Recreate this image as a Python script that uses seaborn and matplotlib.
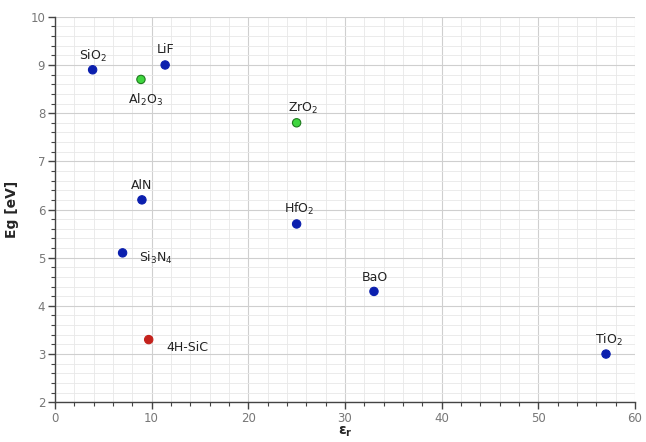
import matplotlib
matplotlib.use("Agg")
import matplotlib.pyplot as plt
import seaborn as sns
import pandas as pd
from matplotlib.ticker import MultipleLocator

materials = ["SiO2", "LiF", "Al2O3", "ZrO2", "AlN", "HfO2", "Si3N4", "BaO", "4H-SiC", "TiO2"]
labels = [r"SiO$_2$", "LiF", r"Al$_2$O$_3$", r"ZrO$_2$", "AlN", r"HfO$_2$",
          r"Si$_3$N$_4$", "BaO", "4H-SiC", r"TiO$_2$"]
eps_r = [3.9, 11.4, 8.9, 25, 9.0, 25, 7.0, 33, 9.7, 57]
eg = [8.9, 9.0, 8.7, 7.8, 6.2, 5.7, 5.1, 4.3, 3.3, 3.0]
group = ["blue", "blue", "green", "green", "blue", "blue", "blue", "blue", "red", "blue"]
# label offsets in points (dx, dy)
offsets = [(0, 10), (0, 11), (3, -15), (5, 10), (0, 10), (2, 11), (12, -4), (1, 10), (13, -6), (2, 10)]
ha_list = ["center", "center", "center", "center", "center", "center", "left", "center", "left", "center"]

df = pd.DataFrame({"material": materials, "eps_r": eps_r, "eg": eg, "group": group})
palette = {"blue": "#0b1fae", "green": "#3fd63f", "red": "#c4221c"}
edges = {"blue": "#0b1fae", "green": "#1e7a1e", "red": "#c4221c"}

sns.set_style("white")
fig = plt.figure(figsize=(6.46, 4.42), dpi=100)
ax = fig.add_axes([0.085, 0.09, 0.898, 0.872])

sns.scatterplot(data=df, x="eps_r", y="eg", hue="group", palette=palette, s=36,
                edgecolor=[edges[g] for g in df["group"]], linewidth=0.8,
                legend=False, ax=ax, zorder=3)

for lab, x, y, (dx, dy), ha in zip(labels, eps_r, eg, offsets, ha_list):
    ax.annotate(lab, (x, y), xytext=(dx, dy), textcoords="offset points",
                ha=ha, va="center", fontsize=9, color="#222222")

ax.set_xlim(0, 60)
ax.set_ylim(2, 10)
ax.xaxis.set_major_locator(MultipleLocator(10))
ax.xaxis.set_minor_locator(MultipleLocator(2))
ax.yaxis.set_major_locator(MultipleLocator(1))
ax.yaxis.set_minor_locator(MultipleLocator(0.2))
ax.grid(which="major", color="#cfcfcf", linewidth=0.8)
ax.grid(which="minor", color="#e8e8e8", linewidth=0.6)
ax.set_axisbelow(True)

for s in ["top", "right"]:
    ax.spines[s].set_visible(False)
for s in ["left", "bottom"]:
    ax.spines[s].set_color("#444444")
    ax.spines[s].set_linewidth(1.0)

ax.tick_params(which="major", direction="out", length=5, width=1, color="#444444",
               labelsize=8.5, labelcolor="#777777", left=True, bottom=True, pad=2)
ax.tick_params(which="minor", direction="out", length=3, width=0.8, color="#444444",
               left=True, bottom=True)

ax.set_xlabel(r"ε$_\mathbf{r}$", fontsize=10, fontweight="bold", labelpad=0)
ax.set_ylabel("Eg [eV]", fontsize=10, fontweight="bold", labelpad=8)

fig.savefig("out.png", dpi=100)
